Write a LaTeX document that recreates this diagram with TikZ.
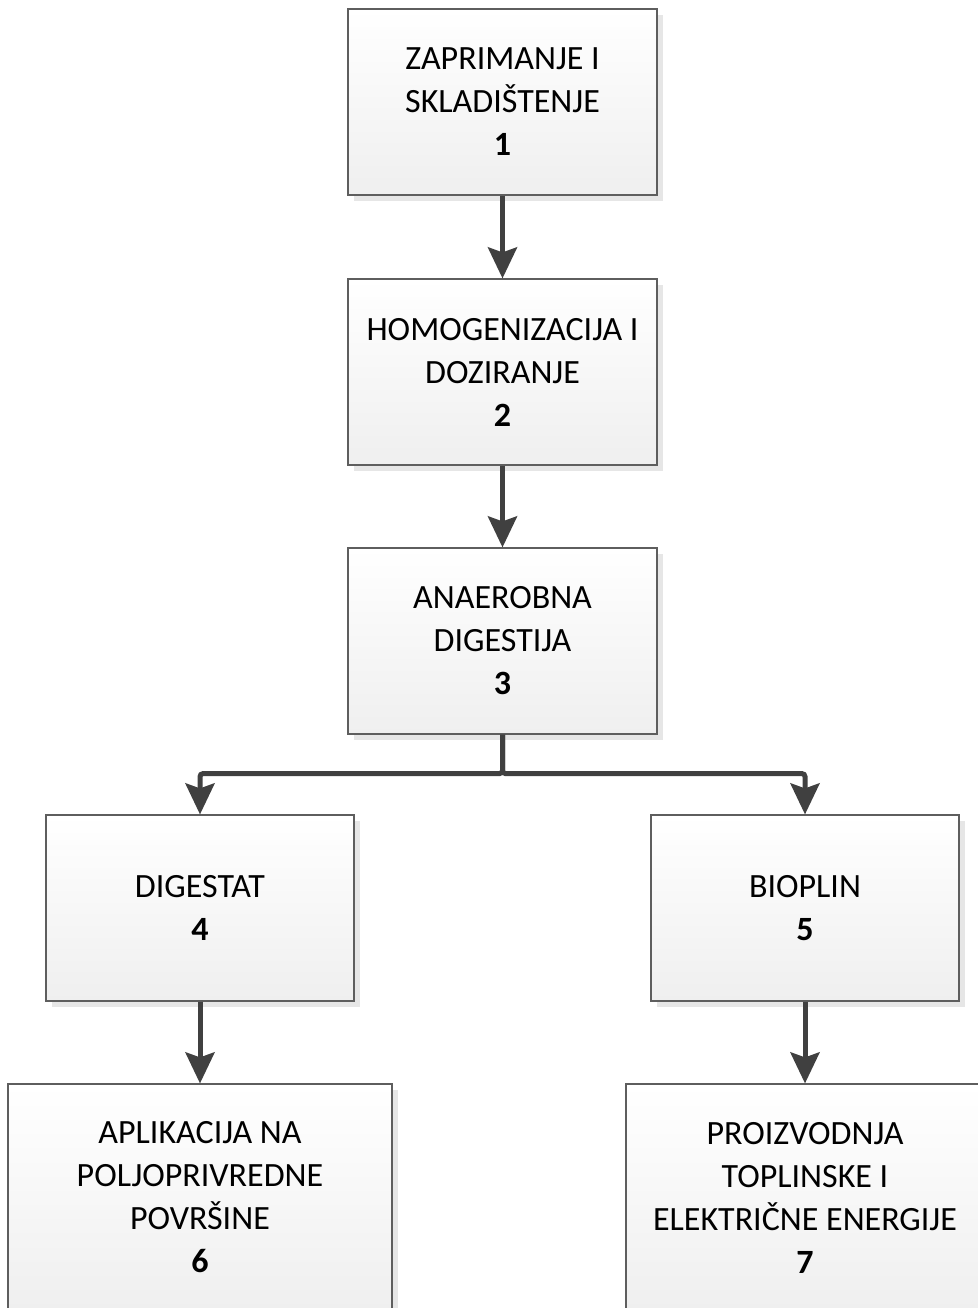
\documentclass[tikz,border=0pt]{standalone}
\usepackage{fontspec}
\setmainfont{Carlito}
\usetikzlibrary{arrows.meta,shadows}
\definecolor{boxborder}{HTML}{5E5E5E}
\definecolor{boxbottom}{HTML}{EFEFEF}
\definecolor{shadowgray}{HTML}{E6E6E6}
\definecolor{arrowgray}{HTML}{404040}
\begin{document}
\begin{tikzpicture}[x=1pt,y=-1pt,
  procbox/.style={draw=boxborder, line width=1.2pt, top color=white, bottom color=boxbottom,
    minimum width=309pt, minimum height=186pt, align=center, inner sep=0pt,
    font=\fontsize{34}{43}\selectfont,
    drop shadow={shadow xshift=6pt, shadow yshift=-6pt, fill=shadowgray, opacity=1}},
  conn/.style={draw=arrowgray, line width=5pt,
    -{Stealth[length=31pt, width=29pt, inset=5pt, fill=arrowgray]}}]
\useasboundingbox (0,0) rectangle (977,1308);
\node[procbox] (b1) at (502.5,102) {ZAPRIMANJE I\\SKLADIŠTENJE\\\textbf{1}};
\node[procbox] (b2) at (502.5,372) {HOMOGENIZACIJA I\\DOZIRANJE\\\textbf{2}};
\node[procbox] (b3) at (502.5,641) {ANAEROBNA\\DIGESTIJA\\\textbf{3}};
\node[procbox, minimum width=308pt] (b4) at (200,908) {DIGESTAT\\\textbf{4}};
\node[procbox, minimum width=308pt] (b5) at (805,908) {BIOPLIN\\\textbf{5}};
\node[procbox, minimum width=384pt, minimum height=227pt] (b6) at (200,1197.5) {APLIKACIJA NA\\POLJOPRIVREDNE\\POVRŠINE\\\textbf{6}};
\node[procbox, minimum width=358pt, minimum height=227pt] (b7) at (805,1197.5) {PROIZVODNJA\\TOPLINSKE I\\ELEKTRIČNE ENERGIJE\\\textbf{7}};
\draw[conn] (b1.south) -- (b2.north);
\draw[conn] (b2.south) -- (b3.north);
\coordinate (split) at ([yshift=-39pt]b3.south);
\draw[conn, rounded corners=3pt] (b3.south) -- (split) -| (b4.north);
\draw[conn, rounded corners=3pt] (b3.south) -- (split) -| (b5.north);
\draw[conn] (b4.south) -- (b6.north);
\draw[conn] (b5.south) -- (b7.north);
\end{tikzpicture}
\end{document}
